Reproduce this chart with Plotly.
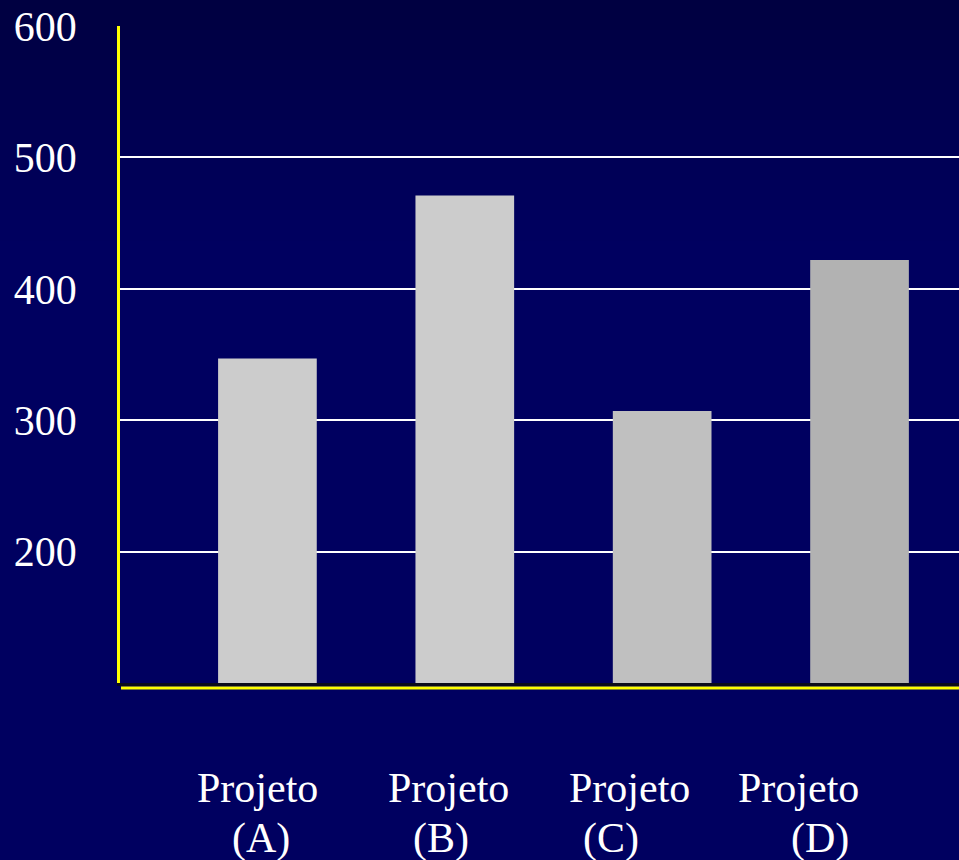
import plotly.graph_objects as go

# ---- data ----
categories = ["Projeto (A)", "Projeto (B)", "Projeto (C)", "Projeto (D)"]
label_line1 = ["Projeto", "Projeto", "Projeto", "Projeto"]
label_line2 = ["(A)", "(B)", "(C)", "(D)"]
values = [347, 471, 307, 422]
y_tick_values = [200, 300, 400, 500, 600]
y_tick_labels = ["200", "300", "400", "500", "600"]
grid_values = [200, 300, 400, 500]

# ---- styles ----
bar_colors = ["#cccccc", "#cccccc", "#c0c0c0", "#b2b2b2"]
line1_xshift = [-10, -16, -33, -61]
line2_xshift = [-6, -24, -51, -40]
FONT = "Liberation Serif, Times New Roman, serif"
W, H = 959, 860
M_L, M_R, M_T, M_B = 120, 0, 26, 177

fig = go.Figure()
fig.add_trace(go.Bar(
    x=categories, y=values, base=0,
    marker=dict(color=bar_colors, line=dict(width=0)),
    width=0.5, hoverinfo="skip", showlegend=False,
))

# background gradient (dark at top) in bands
plot_h = H - M_T - M_B
def px_to_paper(py):
    return (H - M_B - py) / plot_h

shapes = []
top_rgb = (0, 0, 64)
bot_rgb = (0, 0, 96)
grad_end = 240
nb = 24
for i in range(nb):
    y0 = grad_end * i / nb
    y1 = grad_end * (i + 1) / nb
    t = (i + 0.5) / nb
    c = tuple(round(top_rgb[k] + (bot_rgb[k] - top_rgb[k]) * t) for k in range(3))
    shapes.append(dict(type="rect", xref="paper", yref="paper",
                       x0=-0.2, x1=1.05, y0=px_to_paper(y1 + 0.5), y1=px_to_paper(y0),
                       fillcolor="rgb(%d,%d,%d)" % c, line=dict(width=0), layer="below"))
# yellow x-axis line below the dark base line
shapes.append(dict(type="line", xref="paper", yref="paper", x0=0.0012, x1=1.0,
                   ysizemode="pixel", yanchor=0, y0=-5, y1=-5,
                   line=dict(color="#ffff00", width=3), layer="above"))

annotations = []
for cat, t1, t2, s1, s2 in zip(categories, label_line1, label_line2, line1_xshift, line2_xshift):
    annotations.append(dict(x=cat, xref="x", y=0, yref="paper", text=t1, showarrow=False,
                            xshift=s1, yshift=-105, yanchor="middle", xanchor="center",
                            font=dict(family=FONT, size=42, color="white")))
    annotations.append(dict(x=cat, xref="x", y=0, yref="paper", text=t2, showarrow=False,
                            xshift=s2, yshift=-155, yanchor="middle", xanchor="center",
                            font=dict(family=FONT, size=42, color="white")))

fig.update_layout(
    width=W, height=H, autosize=False,
    margin=dict(l=M_L, r=M_R, t=M_T, b=M_B, pad=0),
    paper_bgcolor="#000060", plot_bgcolor="rgba(0,0,0,0)",
    shapes=shapes, annotations=annotations,
    bargap=0.5,
    xaxis=dict(range=[-0.747, 3.504], showticklabels=False, ticks="", showgrid=False,
               zeroline=False, showline=True, linecolor="#0c0c1c", linewidth=3),
    yaxis=dict(range=[100, 600], tickvals=y_tick_values, ticktext=y_tick_labels,
               showgrid=False, zeroline=False, ticks="",
               showline=True, linecolor="#ffff00", linewidth=2.5,
               tickfont=dict(family=FONT, size=42, color="white"),
               ticklabelstandoff=32,
               minor=dict(tickvals=grid_values, showgrid=True, gridcolor="white",
                          gridwidth=2, ticks="")),
)
fig.write_html("out.html")
